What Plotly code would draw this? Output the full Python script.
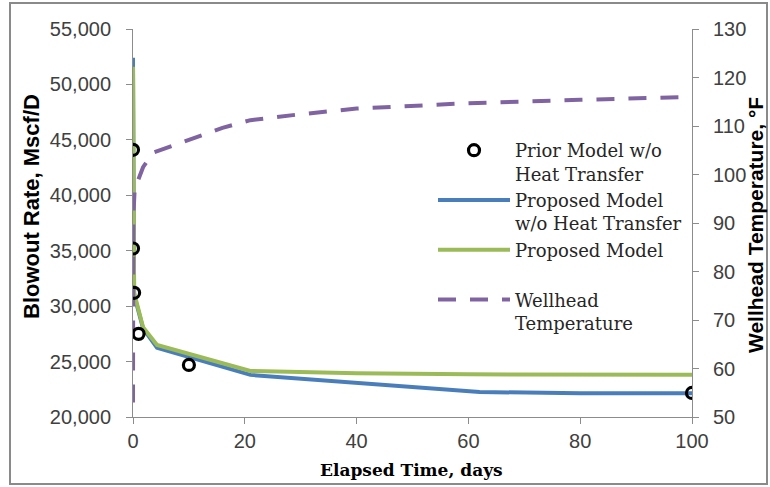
import plotly.graph_objects as go

# ---- data ----
prior_t = [0, 0, 0.2, 1, 10, 100]
prior_q = [44100, 35200, 31200, 27500, 24700, 22170]

blue_t = [0, 0.2, 1.8, 4.3, 21, 40, 62, 80, 100]
blue_q = [52400, 31000, 28000, 26250, 23800, 23100, 22250, 22150, 22150]

green_t = [0, 0.2, 1.8, 4.3, 21, 40, 60, 80, 100]
green_q = [51600, 31200, 28100, 26500, 24150, 23950, 23850, 23800, 23800]

temp_t = [0, 0.05, 0.3, 1.8, 3.6, 10, 16, 21, 29, 40, 60, 80, 100]
temp_v = [53, 91, 97, 101.5, 104.5, 107.1, 109.6, 111.2, 112.3, 113.6, 114.7, 115.4, 116.0]

names = ["Prior Model w/o<br>Heat Transfer",
         "Proposed Model<br>w/o Heat Transfer",
         "Proposed Model<br> ",
         "Wellhead<br>Temperature"]

x_ticks = [0, 20, 40, 60, 80, 100]
yl_ticks = [20000, 25000, 30000, 35000, 40000, 45000, 50000, 55000]
yr_ticks = [50, 60, 70, 80, 90, 100, 110, 120, 130]

W, H = 770, 487
L, R, T, B = 133, 692, 29, 417

AX = "#8c8c8c"
TICKC = "#404040"
tickfont = dict(family="Liberation Sans, Arial", size=20, color=TICKC)

fig = go.Figure()
fig.add_trace(go.Scatter(x=prior_t, y=prior_q, name=names[0], mode="markers",
                         marker=dict(symbol="circle-open", size=11, color="black",
                                     line=dict(width=3.2, color="black")),
                         yaxis="y3"))
fig.add_trace(go.Scatter(x=blue_t, y=blue_q, name=names[1], mode="lines",
                         line=dict(color="#4a7ebb", width=4), yaxis="y"))
fig.add_trace(go.Scatter(x=green_t, y=green_q, name=names[2], mode="lines",
                         line=dict(color="#9bbb59", width=4), yaxis="y"))
fig.add_trace(go.Scatter(x=temp_t, y=temp_v, name=names[3], mode="lines",
                         line=dict(color="#8064a2", width=4, dash="18px,14px"),
                         yaxis="y2"))

pw, ph = R - L, B - T
def px(xp):
    return (xp - L) / pw
def py(yp):
    return (B - yp) / ph

fig.update_layout(
    width=W, height=H,
    margin=dict(l=L, r=W - R, t=T, b=H - B),
    paper_bgcolor="white", plot_bgcolor="white",
    showlegend=True,
    legend=dict(x=px(433), y=py(132), xanchor="left", yanchor="top",
                bgcolor="rgba(0,0,0,0)", valign="top", itemwidth=72,
                font=dict(family="DejaVu Serif", size=18, color="#262626"),
                traceorder="normal"),
    xaxis=dict(range=[0, 100], tickvals=x_ticks, showgrid=False, zeroline=False,
               showline=True, linecolor=AX, linewidth=1, ticks="outside",
               ticklen=6, tickcolor=AX, tickfont=tickfont),
    yaxis=dict(range=[20000, 55000], tickvals=yl_ticks, tickformat=",d",
               showgrid=False, zeroline=False, showline=True, linecolor=AX,
               linewidth=1, ticks="outside", ticklen=6, tickcolor=AX,
               tickfont=tickfont, ticklabelstandoff=11),
    yaxis2=dict(range=[50, 130], tickvals=yr_ticks, overlaying="y", side="right",
                showgrid=False, zeroline=False, showline=True, linecolor=AX,
                linewidth=1, ticks="outside", ticklen=6, tickcolor=AX,
                tickfont=tickfont, ticklabelstandoff=10),
    yaxis3=dict(range=[20000, 55000], overlaying="y", visible=False),
    annotations=[
        dict(text="<b>Blowout Rate, Mscf/D</b>", xref="paper", yref="paper",
             x=px(31), y=py(207), xanchor="center", yanchor="middle",
             textangle=-90, showarrow=False,
             font=dict(family="Liberation Sans, Arial", size=22, color="#000")),
        dict(text="<b>Wellhead Temperature, °F</b>", xref="paper", yref="paper",
             x=px(755), y=py(225), xanchor="center", yanchor="middle",
             textangle=-90, showarrow=False,
             font=dict(family="Liberation Sans, Arial", size=21, color="#000")),
        dict(text="<b>Elapsed Time, days</b>", xref="paper", yref="paper",
             x=px(411), y=py(470), xanchor="center", yanchor="middle",
             showarrow=False,
             font=dict(family="DejaVu Serif", size=17, color="#000")),
    ],
    shapes=[dict(type="rect", xref="paper", yref="paper",
                 x0=px(10), x1=px(767), y0=py(484), y1=py(3),
                 line=dict(color="#8a8a8a", width=2), layer="below")],
)

fig.write_html("out.html")
